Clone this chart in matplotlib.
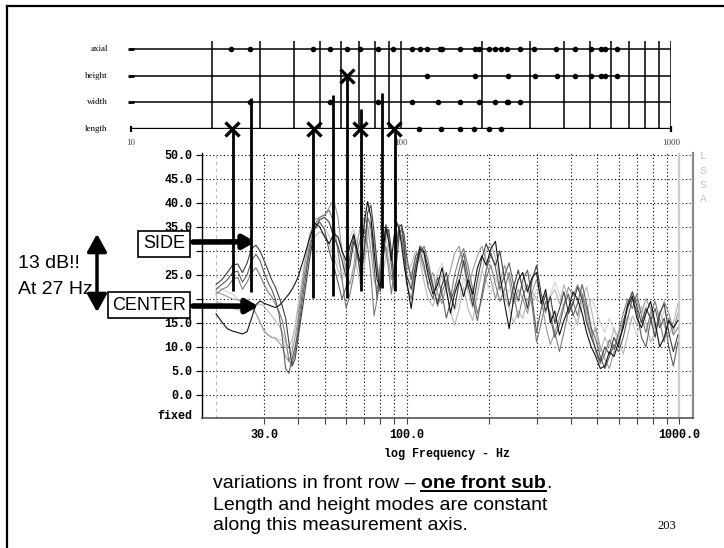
import matplotlib
matplotlib.use("Agg")
import matplotlib.pyplot as plt
from matplotlib.lines import Line2D
from matplotlib.patches import FancyArrowPatch
import numpy as np

W, H = 724, 548


def fx(px):
    return px / W


def fy(py):
    return 1 - py / H


# frequency grid (Hz) shared by all traces
freq = [20, 21, 22, 23, 24, 25, 26, 27, 28, 29,
        30, 31, 32, 33, 34, 35, 36, 37, 38, 39,
        40, 42, 44, 46, 48, 50, 52, 54, 56, 58,
        60, 62, 64, 66, 68, 70, 72, 74, 76, 78,
        80, 82, 84, 86, 88, 90, 92, 94, 96, 98,
        100, 104, 108, 112, 116, 120, 125, 130, 135, 140,
        145, 150, 156, 162, 168, 175, 182, 189, 196, 204,
        212, 220, 229, 238, 247, 257, 267, 278, 289, 300,
        312, 324, 337, 350, 364, 378, 393, 408, 424, 441,
        458, 476, 495, 514, 534, 555, 577, 600, 624, 648,
        674, 700, 728, 756, 786, 817, 849, 882, 917, 953, 990]

# level (dB) per measurement position
pos_center = [16.9, 15.2, 13.8, 13.3, 13.0, 12.7, 13.2, 16.0, 18.8, 19.6,
              19.1, 18.8, 18.5, 18.2, 18.6, 19.3, 20.2, 21.0, 22.0, 23.2,
              24.6, 28.5, 32.5, 35.8, 35.0, 33.0, 31.5, 33.5, 33.0, 30.0,
              28.0, 31.0, 33.5, 30.0, 27.0, 36.0, 40.3, 37.0, 30.0, 24.0,
              22.5, 30.0, 35.0, 32.0, 28.0, 33.0, 36.0, 34.5, 31.0, 27.0,
              24.0, 18.0, 25.0, 30.5, 29.5, 25.0, 21.0, 23.0, 26.5, 22.0,
              17.0, 21.0, 24.0, 20.5, 24.0, 21.0, 26.5, 29.0, 27.0, 30.5,
              32.0, 25.0, 19.0, 13.8, 20.0, 24.0, 25.5, 21.5, 24.5, 25.5,
              19.0, 22.0, 15.0, 17.5, 12.5, 15.5, 18.0, 21.5, 20.0, 17.0,
              13.0, 10.0, 8.0, 5.5, 6.0, 9.0, 8.0, 11.0, 14.0, 18.5,
              20.5, 16.0, 14.0, 17.0, 19.5, 15.0, 10.0, 12.0, 15.5, 14.0, 15.5]

pos_side = [23.0, 24.0, 25.5, 27.0, 27.3, 25.5, 27.5, 30.5, 31.2, 30.0,
            28.0, 26.0, 24.0, 22.5, 20.5, 18.5, 16.0, 11.0, 6.0, 7.5,
            12.0, 20.0, 28.0, 34.5, 36.5, 37.0, 36.0, 33.0, 31.0, 28.0,
            24.5, 27.0, 32.0, 29.5, 24.0, 30.0, 38.0, 39.5, 34.0, 27.0,
            21.5, 28.0, 33.5, 34.5, 30.0, 24.0, 31.0, 35.0, 35.5, 31.0,
            25.0, 22.0, 27.0, 31.0, 30.0, 26.5, 22.5, 19.0, 23.0, 25.5,
            21.0, 18.0, 23.5, 28.0, 23.0, 18.5, 24.0, 28.5, 31.5, 29.0,
            27.0, 30.0, 24.0, 18.5, 22.5, 26.0, 22.0, 18.0, 24.0, 27.0,
            21.0, 17.5, 20.5, 15.0, 18.0, 21.5, 17.0, 19.0, 22.5, 20.0,
            15.0, 12.0, 9.5, 7.0, 10.0, 8.5, 12.0, 10.0, 15.0, 19.0,
            21.5, 18.5, 15.0, 18.0, 16.0, 12.0, 17.0, 19.0, 13.0, 9.0, 12.5]

pos_3 = [22.0, 23.0, 24.0, 25.5, 25.8, 23.5, 25.0, 28.0, 29.3, 28.0,
         25.5, 23.5, 22.0, 20.0, 17.0, 12.0, 5.5, 4.5, 7.5, 10.0,
         13.0, 22.0, 30.0, 35.0, 36.0, 34.5, 30.0, 27.0, 23.5, 20.0,
         22.5, 29.0, 33.0, 29.0, 25.0, 31.0, 37.0, 35.0, 27.0, 20.0,
         25.0, 31.0, 35.5, 33.0, 27.0, 22.0, 28.0, 33.0, 35.0, 33.5,
         29.0, 24.0, 29.0, 30.0, 27.0, 22.5, 20.0, 24.5, 21.0, 16.0,
         19.5, 22.0, 26.0, 29.5, 25.0, 20.0, 15.5, 21.0, 26.0, 29.5,
         26.5, 22.0, 25.0, 27.5, 23.0, 19.5, 24.0, 26.0, 20.0, 13.0,
         18.0, 21.0, 16.0, 12.0, 14.5, 18.5, 21.0, 16.5, 19.0, 23.0,
         19.0, 14.0, 11.5, 8.0, 5.5, 8.0, 10.5, 9.0, 12.0, 16.0,
         20.0, 17.5, 12.0, 10.0, 15.5, 18.0, 14.0, 16.0, 10.0, 6.0, 11.0]

pos_4 = [21.0, 22.0, 22.5, 24.0, 24.5, 22.0, 23.5, 25.5, 26.5, 25.0,
         23.0, 21.5, 20.5, 19.0, 17.5, 15.5, 12.0, 7.0, 6.5, 9.0,
         14.5, 24.0, 31.0, 35.5, 37.0, 37.5, 38.5, 36.0, 30.0, 24.0,
         18.0, 21.0, 25.0, 30.0, 33.0, 34.5, 31.0, 25.0, 16.5, 20.0,
         27.0, 32.0, 30.0, 26.0, 21.0, 26.0, 31.5, 34.0, 33.0, 29.0,
         23.0, 20.0, 26.0, 29.5, 31.0, 28.0, 23.0, 18.5, 21.5, 24.0,
         20.0, 25.0, 28.5, 30.5, 27.0, 22.0, 17.0, 20.0, 24.5, 27.0,
         23.0, 19.5, 22.0, 25.5, 21.0, 16.0, 20.5, 23.0, 18.5, 11.0,
         15.0, 19.5, 17.0, 13.0, 9.0, 13.0, 17.5, 19.5, 16.5, 21.0,
         18.0, 13.5, 9.0, 6.5, 8.5, 11.5, 9.5, 13.0, 17.0, 20.0,
         18.0, 21.0, 16.5, 13.0, 17.0, 19.5, 15.5, 11.0, 16.0, 12.5, 14.0]

pos_5 = [21.5, 21.0, 20.5, 20.0, 19.8, 19.5, 19.0, 18.5, 17.0, 15.0,
         13.5, 12.5, 12.0, 11.8, 11.0, 10.0, 8.0, 7.0, 9.0, 12.0,
         16.0, 26.0, 33.0, 36.5, 37.0, 37.5, 39.0, 40.7, 37.0, 30.0,
         26.0, 23.0, 27.0, 32.0, 35.5, 37.0, 35.0, 30.0, 24.0, 22.0,
         26.0, 29.0, 31.0, 28.0, 24.0, 27.0, 32.0, 35.5, 35.0, 32.0,
         27.5, 25.0, 28.5, 29.0, 26.0, 23.0, 25.5, 21.0, 19.0, 23.0,
         26.0, 29.5, 31.0, 27.0, 22.0, 26.0, 29.0, 31.0, 28.0, 24.0,
         20.0, 23.5, 27.0, 24.0, 19.0, 22.0, 20.0, 17.0, 21.5, 24.0,
         20.0, 14.5, 10.5, 13.0, 16.0, 19.0, 22.5, 20.5, 23.0, 21.0,
         16.5, 12.0, 14.0, 10.0, 7.5, 5.5, 9.0, 12.5, 15.5, 18.0,
         21.0, 19.5, 17.0, 20.0, 18.0, 14.0, 16.5, 19.5, 17.0, 13.5, 17.0]

pos_6 = [19.5, 19.0, 18.5, 18.0, 17.8, 17.5, 17.5, 18.0, 18.5, 19.0,
         18.5, 17.5, 16.5, 15.5, 14.5, 13.0, 11.0, 10.0, 11.5, 14.0,
         18.0, 24.5, 29.5, 33.0, 34.0, 33.5, 31.5, 29.0, 26.0, 24.0,
         27.5, 31.5, 30.0, 26.0, 22.5, 27.0, 33.5, 36.0, 32.0, 26.0,
         23.0, 25.5, 29.0, 31.5, 29.0, 25.5, 29.0, 33.0, 34.5, 30.0,
         26.0, 27.0, 30.0, 28.0, 23.5, 20.0, 18.5, 22.0, 25.0, 21.5,
         17.5, 14.5, 18.0, 22.5, 18.0, 15.5, 21.0, 25.5, 30.0, 31.5,
         28.5, 24.0, 21.0, 18.0, 15.0, 17.5, 16.0, 20.0, 21.5, 20.0,
         19.0, 17.0, 20.5, 22.0, 19.0, 23.0, 20.0, 17.0, 14.5, 20.0,
         22.5, 18.0, 13.0, 9.0, 12.0, 10.0, 14.0, 11.5, 8.5, 12.5,
         16.5, 14.5, 18.5, 15.0, 11.0, 13.0, 17.5, 14.5, 12.0, 15.0, 19.0]

pos_7 = [22.5, 22.0, 21.5, 21.0, 20.0, 19.0, 18.5, 18.0, 17.0, 15.5,
         13.0, 12.5, 12.0, 12.0, 11.5, 11.5, 10.0, 8.5, 10.5, 14.5,
         19.0, 27.0, 32.5, 35.5, 35.5, 35.0, 33.0, 30.0, 27.5, 26.0,
         29.0, 33.0, 34.5, 31.5, 28.0, 31.5, 35.5, 33.0, 28.5, 25.0,
         27.0, 30.5, 33.0, 30.0, 27.0, 29.5, 33.5, 34.5, 32.0, 28.0,
         25.5, 23.0, 27.5, 30.5, 28.5, 24.5, 22.0, 25.5, 27.5, 24.0,
         20.0, 17.5, 20.0, 24.5, 21.5, 18.0, 22.0, 26.0, 24.0, 21.0,
         24.5, 22.0, 20.5, 22.0, 19.0, 21.0, 23.0, 21.5, 19.5, 22.0,
         20.5, 19.0, 21.0, 23.5, 21.0, 18.0, 15.0, 13.5, 16.0, 18.5,
         17.0, 20.0, 18.0, 15.0, 13.0, 16.0, 13.5, 11.0, 14.0, 16.5,
         15.0, 12.5, 15.5, 18.5, 16.0, 13.5, 15.0, 17.5, 15.5, 13.0, 16.0]

traces = [pos_7, pos_6, pos_5, pos_4, pos_3, pos_side, pos_center]
trace_colors = ["#d2d2d2", "#b6b6b6", "#9a9a9a", "#7c7c7c", "#5e5e5e", "#404040", "#111111"]

# room mode frequencies (Hz) for the strip chart
mode_rows = ["length", "width", "height", "axial"]
axial_modes = [23.5, 27.6, 47.1, 54.8, 62.9, 70.2, 82.5, 93.6, 110.0, 117.1,
               124.3, 139.3, 142.2, 164.8, 187.4, 194.4, 211.8, 222.3, 233.9,
               247.8, 276.0, 312.1, 376.6, 439.3, 505.0, 550.0, 569.0, 630.0]
height_modes = [124.3, 187.4, 250.0, 313.0, 378.0, 440.0, 505.0, 550.0, 569.0, 630.0]
width_modes = [27.6, 54.8, 82.5, 110.0, 137.4, 165.0, 194.0, 222.0, 247.0, 250.0, 275.0]
length_modes = [117.0, 141.0, 165.0, 187.0, 211.0, 234.0]
length_marked = [23.7, 47.6, 70.5, 94.5]
height_marked = [62.9]

# mode lines carried down into the response: freq, top (row units), bottom (dB)
drop_freq = [23.9, 27.9, 47.3, 56.2, 63.3, 71.4, 84.7, 95.4]
drop_top = [0.0, 1.17, 0.0, 1.27, 2.0, 0.75, 1.35, 0.0]
drop_db = [21.7, 21.5, 20.2, 20.6, 20.2, 21.7, 22.3, 21.7]

ytick_vals = [0, 5, 10, 15, 20, 25, 30, 35, 40, 45, 50]
xtick_major = [30, 100, 1000]
xtick_minor = [40, 50, 60, 70, 80, 90, 200, 300, 400, 500, 600, 700, 800, 900]

mono = "Liberation Mono"
sans = "Liberation Sans"
serif = "Liberation Serif"

fig = plt.figure(figsize=(W / 100, H / 100), dpi=100)

# ---- main response plot ----
ax = fig.add_axes([fx(202), fy(418), 491 / W, 265 / H])
ax.set_xscale("log")
ax.set_xlim(17.76, 1125)
ax.set_ylim(-4.8, 50.4)

dot = (0, (1, 2.2))
for v in ytick_vals:
    ax.axhline(v, color="k", lw=0.8, ls=dot, zorder=1)
for v in [30] + xtick_minor[:6] + [100] + xtick_minor[6:]:
    ax.axvline(v, color="k", lw=0.8, ls=dot, zorder=1)
ax.axvline(20, color="#bbbbbb", lw=0.8, ls=(0, (3, 3)), zorder=1)
ax.axvline(1000, color="#cccccc", lw=1.6, zorder=1)

for vals, c in zip(traces, trace_colors):
    ax.plot(freq, vals, color=c, lw=0.8, zorder=2)

# 20.0 and 30.0 sit under the CENTER / SIDE boxes in the original
ylabels = ["" if v in (20, 30) else "%.1f" % v for v in ytick_vals]
ax.set_yticks(ytick_vals)
ax.set_yticklabels(ylabels, family=mono, weight="bold", fontsize=8.5)
ax.set_xticks(xtick_major)
ax.set_xticklabels(["30.0", "100.0", "1000.0"], family=mono, weight="bold", fontsize=8.5)
ax.set_xticks(xtick_minor, minor=True)
ax.xaxis.set_minor_formatter(plt.NullFormatter())
ax.tick_params(axis="y", length=4, width=0.8, pad=3)
ax.tick_params(axis="x", which="both", length=4, width=0.8, pad=4, color="#444444")
ax.set_xlabel("log Frequency - Hz", family=mono, weight="bold", fontsize=8.5, labelpad=5)
ax.text(-0.02, -4.4, "fixed", transform=ax.get_yaxis_transform(), ha="right", va="center",
        family=mono, weight="bold", fontsize=8.5)

ax.spines["top"].set_visible(False)
ax.spines["left"].set_linewidth(1.0)
ax.spines["bottom"].set_color("#555555")
ax.spines["bottom"].set_linewidth(1.2)
ax.spines["right"].set_color("#8a8a8a")
ax.spines["right"].set_linewidth(1.6)

for i, ch in enumerate("LSSA"):
    fig.text(fx(700), fy(156 + i * 14.5), ch, family=mono, fontsize=8, color="#c4c4c4",
             ha="left", va="center")

# ---- room mode strip ----
ax_t = fig.add_axes([fx(131), fy(129), 540 / W, 88 / H])
ax_t.set_xscale("log")
ax_t.set_xlim(10, 1000)
ax_t.set_ylim(0, 3.3)
ax_t.axis("off")
ax_t.patch.set_visible(False)

grid_top = [20, 30, 40, 50, 60, 70, 80, 90, 100, 200, 300, 400, 500, 600, 700, 800, 900, 1000]
ax_t.vlines(grid_top, 0, 3.3, color="k", lw=1.1)
ax_t.hlines([1, 2, 3], 10, 1000, color="k", lw=1.1)
ax_t.hlines(0, 10, 1000, color="k", lw=2.4)
ax_t.vlines([10, 1000], -0.13, 0.13, color="k", lw=1.6, clip_on=False)
ax_t.plot([10, 10, 10], [1, 2, 3], ls="none", marker="_", ms=5, mew=2, color="k", clip_on=False)

for i, name in enumerate(mode_rows):
    ax_t.text(-0.043, i, name, transform=ax_t.get_yaxis_transform(), ha="right", va="center",
              family=serif, fontsize=6.5)
for f, lab in zip([10, 100, 1000], ["10", "100", "1000"]):
    ax_t.text(f, -0.52, lab, ha="center", va="center", family=serif, fontsize=6.5, color="#444444")

for modes, row in [(length_modes, 0), (width_modes, 1), (height_modes, 2), (axial_modes, 3)]:
    ax_t.plot(modes, [row] * len(modes), ls="none", marker="o", ms=3.0, color="k", clip_on=False)
ax_t.plot(length_marked, [0] * len(length_marked), ls="none", marker="x", ms=10, mew=2.4,
          color="k", clip_on=False, zorder=5)
ax_t.plot(height_marked, [2] * len(height_marked), ls="none", marker="x", ms=10, mew=2.4,
          color="k", clip_on=False, zorder=5)

# drop lines from the strip down into the response plot
x_ref = ax_t.transData.transform((100, 0))[0]
inv = ax_t.transData.inverted()
for f, top, db in zip(drop_freq, drop_top, drop_db):
    y_disp = ax.transData.transform((100, db))[1]
    y_bot = inv.transform((x_ref, y_disp))[1]
    ax_t.vlines(f, y_bot, top, color="k", lw=2.0, clip_on=False, zorder=6)

# ---- annotations ----
box = dict(boxstyle="square,pad=0.25", fc="white", ec="k", lw=1.2)
fig.text(fx(164), fy(244), "SIDE", family=sans, fontsize=13, ha="center", va="center", bbox=box)
fig.text(fx(149), fy(305), "CENTER", family=sans, fontsize=13, ha="center", va="center", bbox=box)

arrow = dict(arrowstyle="-|>,head_length=0.7,head_width=0.4", lw=4, color="k", shrinkA=0, shrinkB=0)
ax.annotate("", xy=(27.9, 31.9), xytext=(fx(193), fy(242)), textcoords="figure fraction",
            arrowprops=arrow, annotation_clip=False)
ax.annotate("", xy=(28.6, 18.5), xytext=(fx(193), fy(306)), textcoords="figure fraction",
            arrowprops=arrow, annotation_clip=False)

fig.add_artist(FancyArrowPatch((fx(97), fy(234)), (fx(97), fy(312)), transform=fig.transFigure,
                               arrowstyle="<|-|>,head_length=0.9,head_width=0.5", lw=2.5,
                               color="k", mutation_scale=12, shrinkA=0, shrinkB=0))
fig.text(fx(18), fy(263), "13 dB!!", family=sans, fontsize=14, ha="left", va="center")
fig.text(fx(18), fy(289), "At 27 Hz", family=sans, fontsize=14, ha="left", va="center")

# caption with underlined bold part
fs = 14
r = fig.canvas.get_renderer()
t1 = fig.text(fx(213), fy(484), "variations in front row \u2013", family=sans, fontsize=fs,
              ha="left", va="center")
bb1 = t1.get_window_extent(r)
space = 0.278 * fs * 100 / 72
t2 = fig.text((bb1.x1 + space) / W, fy(484), "one front sub", family=sans, fontsize=fs,
              weight="bold", ha="left", va="center")
bb2 = t2.get_window_extent(r)
fig.add_artist(Line2D([bb2.x0 / W, bb2.x1 / W], [(bb2.y0 + 1.5) / H] * 2, color="k", lw=1.4))
fig.text(bb2.x1 / W, fy(484), ".", family=sans, fontsize=fs, ha="left", va="center")
fig.text(fx(213), fy(505), "Length and height modes are constant", family=sans, fontsize=fs,
         ha="left", va="center")
fig.text(fx(213), fy(526), "along this measurement axis.", family=sans, fontsize=fs,
         ha="left", va="center")
fig.text(fx(657), fy(526), "203", family=serif, fontsize=9, ha="left", va="center")

# slide frame
fig.add_artist(Line2D([fx(7), fx(7)], [fy(6), 0], color="k", lw=1.6))
fig.add_artist(Line2D([fx(7), 1], [fy(6), fy(6)], color="k", lw=1.6))

fig.savefig("out.png", dpi=100)
